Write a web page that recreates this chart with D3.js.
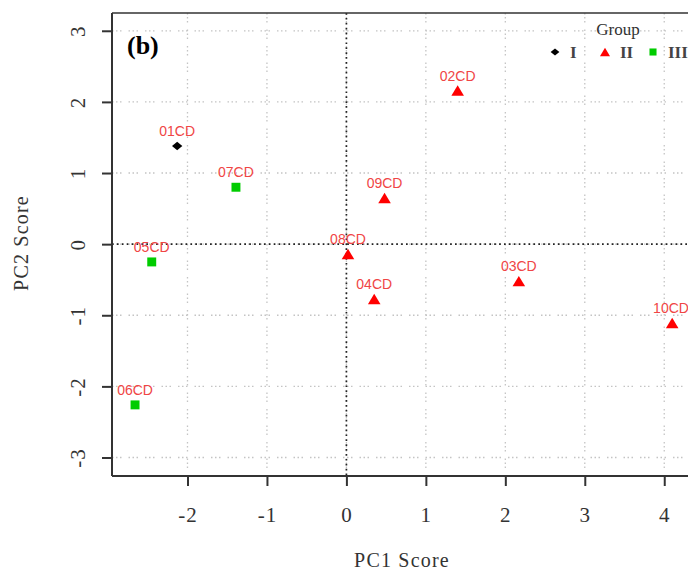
<!DOCTYPE html>
<html><head><meta charset="utf-8">
<script src="https://cdn.jsdelivr.net/npm/d3@7"></script>
<style>body{margin:0;background:#fff}svg{display:block}</style>
</head><body>
<script>
const samples = ["01CD","02CD","03CD","04CD","05CD","06CD","07CD","08CD","09CD","10CD"];
const pc1 = [-2.13, 1.40, 2.17, 0.35, -2.45, -2.66, -1.39, 0.02, 0.48, 4.10];
const pc2 = [1.38, 2.16, -0.52, -0.77, -0.25, -2.26, 0.80, -0.14, 0.65, -1.11];
const groups = ["I","II","II","II","III","III","III","II","II","II"];
const groupNames = ["I","II","III"];
const groupColors = ["#000000","#ff0000","#00cc00"];
const xTicks = [-2,-1,0,1,2,3,4];
const yTicks = [-3,-2,-1,0,1,2,3];

const W = 688, H = 572;
const svg = d3.select("body").append("svg").attr("width", W).attr("height", H);
const x = d3.scaleLinear().domain([-2.95, 4.45]).range([112, 700]);
const y = d3.scaleLinear().domain([-3.26, 3.25]).range([476, 13]);
const serif = "'Liberation Serif','Times New Roman',serif";

// custom symbols
const diamond = { draw(ctx, size) { const w = Math.sqrt(size) * 0.62, h = Math.sqrt(size) * 0.5;
  ctx.moveTo(-w, 0); ctx.lineTo(0, -h); ctx.lineTo(w, 0); ctx.lineTo(0, h); ctx.closePath(); } };
const triangle = { draw(ctx, size) { const s = Math.sqrt(size); const w = s * 0.6, h = s * 0.5;
  ctx.moveTo(-w, h); ctx.lineTo(0, -h); ctx.lineTo(w, h); ctx.closePath(); } };
const groupShapes = [diamond, triangle, d3.symbolSquare];

// grid
const grid = svg.append("g").attr("stroke", "#c4c4c4").attr("stroke-width", 1.3).attr("stroke-dasharray", "1.5,2.5,1.5,2.5,1.5,7");
grid.selectAll(".gx").data(xTicks).join("line").attr("x1", d => x(d)).attr("x2", d => x(d)).attr("y1", 13).attr("y2", 476);
grid.selectAll(".gy").data(yTicks).join("line").attr("x1", 112).attr("x2", W).attr("y1", d => y(d)).attr("y2", d => y(d));
// zero lines
const zl = svg.append("g").attr("stroke", "#222").attr("stroke-width", 1.7).attr("stroke-dasharray", "1.7,3.2");
zl.append("line").attr("x1", x(0)).attr("x2", x(0)).attr("y1", 13).attr("y2", 476);
zl.append("line").attr("x1", 112).attr("x2", W).attr("y1", y(0)).attr("y2", y(0));

// frame
svg.append("line").attr("x1", 112).attr("x2", W).attr("y1", 13).attr("y2", 13).attr("stroke", "#333").attr("stroke-width", 1.5);

// axes
const fmt = d => String(d);
const xAxis = svg.append("g").attr("transform", "translate(0,476)")
  .call(d3.axisBottom(x).tickValues(xTicks).tickSize(10).tickFormat(fmt));
const yAxis = svg.append("g").attr("transform", "translate(112,0)")
  .call(d3.axisLeft(y).tickValues(yTicks).tickSize(10).tickFormat(fmt));
[xAxis, yAxis].forEach(a => {
  a.attr("font-size", null).attr("font-family", null);
  a.select(".domain").attr("stroke", "#333").attr("stroke-width", 2);
  a.selectAll(".tick line").attr("stroke", "#333").attr("stroke-width", 2);
  a.selectAll("text").style("font-family", serif).style("font-size", "21px").style("letter-spacing", "1px").attr("fill", "#333");
});
xAxis.select(".domain").attr("d", `M112,0H${W}`);
yAxis.select(".domain").attr("d", "M0,13V476");
xAxis.selectAll(".tick text").attr("y", 46).attr("dy", null);
yAxis.selectAll(".tick text").attr("text-anchor", "middle").attr("dy", null)
  .attr("transform", "translate(-34,0) rotate(-90)").attr("x", 0).attr("y", 0).attr("dominant-baseline", "central");

// axis titles
svg.append("text").attr("x", 402).attr("y", 567).attr("text-anchor", "middle")
  .style("font-family", serif).style("font-size", "20px").style("letter-spacing", "1.2px").attr("fill", "#333").text("PC1 Score");
svg.append("text").attr("transform", "translate(28,243) rotate(-90)").attr("text-anchor", "middle")
  .style("font-family", serif).style("font-size", "20px").style("letter-spacing", "1.2px").attr("fill", "#333").text("PC2 Score");

// panel label
svg.append("text").attr("x", 127).attr("y", 54).style("font-family", serif).attr("font-weight", "bold")
  .style("font-size", "26px").attr("fill", "#000").text("(b)");

// points
const idx = d3.range(samples.length);
const gi = i => groupNames.indexOf(groups[i]);
const sizes = [70, 110, 80];
svg.append("g").selectAll("path").data(idx).join("path")
  .attr("transform", i => `translate(${x(pc1[i])},${y(pc2[i])})`)
  .attr("d", i => d3.symbol().type(groupShapes[gi(i)]).size(sizes[gi(i)])())
  .attr("fill", i => groupColors[gi(i)]);
svg.append("g").selectAll("text").data(idx).join("text")
  .attr("x", i => Math.min(x(pc1[i]), W - 17)).attr("y", i => y(pc2[i]) - 10)
  .attr("text-anchor", "middle").style("font-family", "'Liberation Sans',Arial,sans-serif")
  .style("font-size", "14px").attr("fill", "#f04545").text(i => samples[i]);

// legend
const leg = svg.append("g");
leg.append("text").attr("x", 618).attr("y", 35).attr("text-anchor", "middle")
  .style("font-family", serif).style("font-size", "17px").attr("fill", "#333").text("Group");
const legX = [555, 605, 653];
const legSizes = [50, 70, 50];
groupNames.forEach((g, k) => {
  leg.append("path").attr("transform", `translate(${legX[k]},${52})`)
    .attr("d", d3.symbol().type(groupShapes[k]).size(legSizes[k])())
    .attr("fill", groupColors[k]);
  leg.append("text").attr("x", legX[k] + 15).attr("y", 58).style("font-family", serif)
    .style("font-size", "17px").attr("font-weight", "bold").attr("fill", "#444").text(g);
});
</script>
</body></html>
